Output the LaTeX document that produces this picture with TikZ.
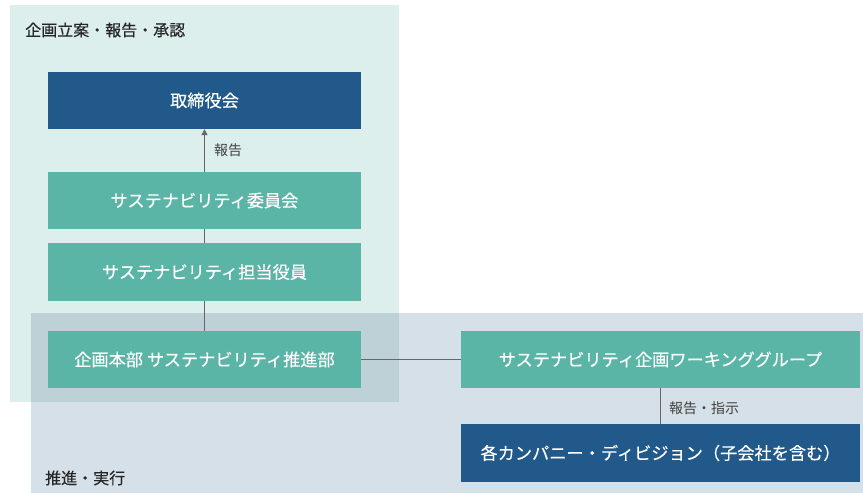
\documentclass[tikz,border=0pt]{standalone}
\usepackage{fontspec}
\setmainfont{Noto Sans CJK JP}
\newfontfamily\jpmed[FakeBold=0.3]{Noto Sans CJK JP}
\usetikzlibrary{arrows.meta}
\definecolor{bgteal}{HTML}{DCEFED}
\definecolor{bgblue}{HTML}{D6E0E8}
\definecolor{bgover}{HTML}{BDD1D7}
\definecolor{boxteal}{HTML}{5BB5A7}
\definecolor{boxblue}{HTML}{22598B}
\definecolor{linegrey}{HTML}{666666}
\begin{document}
\begin{tikzpicture}[x=1pt,y=-1pt,
  boxbase/.style={rectangle, inner sep=0pt, text=white, font=\jpmed\fontsize{17.2}{20}\selectfont},
  tealbox/.style={boxbase, fill=boxteal},
  bluebox/.style={boxbase, fill=boxblue},
  heading/.style={anchor=west, inner sep=0pt, text=black!85, font=\jpmed\fontsize{16}{19}\selectfont},
  lbl/.style={inner sep=0pt, text=black!75, font=\fontsize{14}{17}\selectfont},
  conn/.style={draw=linegrey, line width=1.2pt}]
\useasboundingbox (0,0) rectangle (863,493);
% region backgrounds
\fill[bgteal] (10,5) rectangle (399,402);
\fill[bgblue] (31,313) rectangle (863,493);
\fill[bgover] (31,313) rectangle (399,402);
% headings
\node[heading] (h1) at (25,30) {企画立案・報告・承認};
\node[heading] (h2) at (45,478) {推進・実行};
% boxes
\node[bluebox, minimum width=313pt, minimum height=57pt] (board) at (204.5,100.5) {取締役会};
\node[tealbox, minimum width=313pt, minimum height=57pt] (comm) at (204.5,200.5) {サステナビリティ委員会};
\node[tealbox, minimum width=313pt, minimum height=58pt] (officer) at (204.5,272) {サステナビリティ担当役員};
\node[tealbox, minimum width=313pt, minimum height=57pt] (dept) at (204.5,359.5) {企画本部 サステナビリティ推進部};
\node[tealbox, minimum width=399pt, minimum height=57pt] (wg) at (660.5,359.5) {サステナビリティ企画ワーキンググループ};
\node[bluebox, minimum width=399pt, minimum height=58pt] (div) at (660.5,453) {各カンパニー・ディビジョン（子会社を含む）};
% connectors
\draw[conn, -{Triangle[length=6pt,width=6pt]}] (comm.north) -- (board.south);
\draw[conn] (officer.north) -- (comm.south);
\draw[conn] (dept.north) -- (officer.south);
\draw[conn] (dept.east) -- (wg.west);
\draw[conn] (wg.south) -- (div.north);
% labels
\node[lbl] (l1) at (228,150) {報告};
\node[lbl] (l2) at (704,408) {報告・指示};
\end{tikzpicture}
\end{document}
